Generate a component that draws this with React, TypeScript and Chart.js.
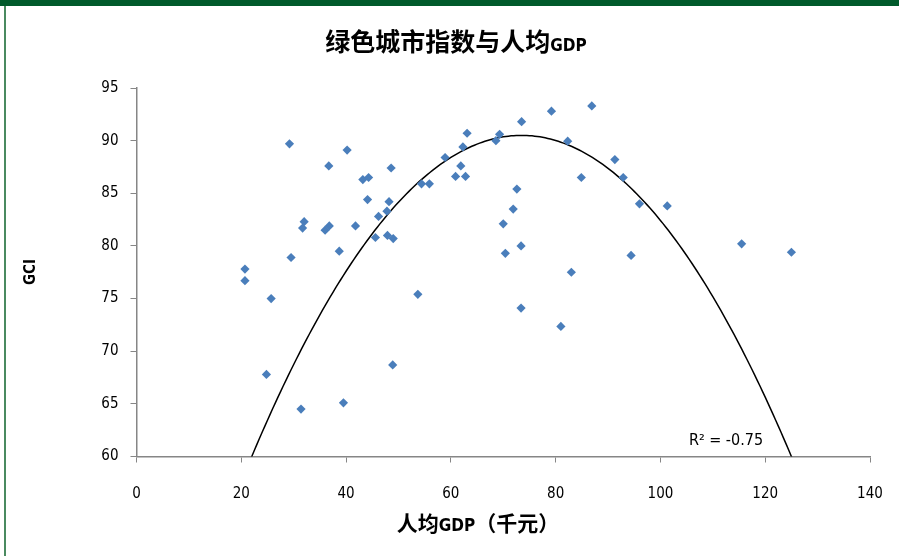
import { useEffect, useRef } from "react";
import { Chart, registerables } from "chart.js";

Chart.register(...registerables);

// ---- data ----
const gdp = [
  20.7, 20.7, 25.7, 24.8, 29.2, 29.5, 31.4, 32.0, 31.7, 36.0,
  36.8, 36.7, 39.5, 38.7, 40.2, 41.8, 43.2, 44.3, 44.1, 45.6,
  46.2, 47.8, 48.2, 48.6, 47.9, 49.0, 48.9, 53.7, 54.4, 55.9,
  58.9, 60.9, 61.9, 62.3, 62.8, 63.1, 68.6, 69.3, 70.0, 70.4,
  71.9, 72.6, 73.4, 73.4, 73.5, 79.2, 81.0, 82.3, 83.0, 84.9,
  86.9, 91.3, 92.9, 94.4, 96.0, 101.3, 115.5, 125.0,
];
const gci = [
  77.8, 76.7, 75.0, 67.8, 89.7, 78.9, 64.5, 82.3, 81.7, 81.5,
  81.9, 87.6, 65.1, 79.5, 89.1, 81.9, 86.3, 86.5, 84.4, 80.8,
  82.8, 83.3, 84.2, 87.4, 81.0, 80.7, 68.7, 75.4, 85.9, 85.9,
  88.4, 86.6, 87.6, 89.4, 86.6, 90.7, 90.0, 90.6, 82.1, 79.3,
  83.5, 85.4, 80.0, 74.1, 91.8, 92.8, 72.35, 89.95, 77.5, 86.5,
  93.3, 88.2, 86.5, 79.1, 84.0, 83.8, 80.2, 79.4,
];

const xAxisRange = [0, 140, 20];
const yAxisRange = [60, 95, 5];

// Excel polynomial (order 2) trendline: y = a x^2 + b x + c
const trendCoef = [-0.0115, 1.6905, 28.374];
const trendXRange = [21, 126];
const trendLabel = "R² = -0.75";

const titleParts = ["绿色城市指数与人均", "GDP"];
const xTitleParts = ["人均", "GDP", "（千元）"];
const yTitle = "GCI";

const CJK = "'Noto Sans CJK SC', sans-serif";
const NUM = "'DejaVu Sans Condensed', 'Liberation Sans Narrow', 'DejaVu Sans', sans-serif";

function buildTrend() {
  const pts: { x: number; y: number }[] = [];
  for (let x = trendXRange[0]; x <= trendXRange[1] + 1e-9; x += 0.5) {
    pts.push({ x, y: trendCoef[0] * x * x + trendCoef[1] * x + trendCoef[2] });
  }
  return pts;
}

function drawParts(
  ctx: CanvasRenderingContext2D,
  parts: { text: string; font: string }[],
  cx: number,
  baseline: number
) {
  let total = 0;
  const widths = parts.map((p) => {
    ctx.font = p.font;
    const w = ctx.measureText(p.text).width;
    total += w;
    return w;
  });
  let x = cx - total / 2;
  ctx.textBaseline = "alphabetic";
  ctx.textAlign = "left";
  parts.forEach((p, i) => {
    ctx.font = p.font;
    ctx.fillText(p.text, x, baseline);
    x += widths[i];
  });
}

const textPlugin = {
  id: "textPlugin",
  afterDraw(chart: any) {
    const ctx: CanvasRenderingContext2D = chart.ctx;
    const area = chart.chartArea;
    ctx.save();
    ctx.fillStyle = "#000";
    // title
    drawParts(
      ctx,
      [
        { text: titleParts[0], font: `bold 25px ${CJK}` },
        { text: titleParts[1], font: `bold 17px ${NUM}` },
      ],
      456,
      51
    );
    // x title
    drawParts(
      ctx,
      [
        { text: xTitleParts[0], font: `bold 21px ${CJK}` },
        { text: xTitleParts[1], font: `bold 17px ${NUM}` },
        { text: xTitleParts[2], font: `bold 21px ${CJK}` },
      ],
      478,
      531
    );
    // y title
    ctx.save();
    ctx.translate(31, 272);
    ctx.rotate(-Math.PI / 2);
    ctx.font = `bold 15px ${NUM}`;
    ctx.textAlign = "center";
    ctx.textBaseline = "middle";
    ctx.fillText(yTitle, 0, 0);
    ctx.restore();
    // R^2 label
    ctx.font = `16px ${NUM}`;
    ctx.textAlign = "center";
    ctx.textBaseline = "middle";
    ctx.fillText(trendLabel, area.right - 144, area.bottom - 16);
    ctx.restore();
  },
};

export default function App() {
  const ref = useRef<HTMLCanvasElement | null>(null);

  useEffect(() => {
    if (!ref.current) return;
    const chart = new Chart(ref.current, {
      type: "scatter",
      data: {
        datasets: [
          {
            label: "GCI",
            data: gdp.map((x, i) => ({ x, y: gci[i] })),
            pointStyle: "rectRot",
            pointRadius: 4.6,
            backgroundColor: "#4a7ebb",
            borderColor: "#4a7ebb",
            borderWidth: 0,
            order: 1,
          },
          {
            type: "line",
            label: "trend",
            data: buildTrend(),
            borderColor: "#000",
            borderWidth: 1.5,
            pointRadius: 0,
            fill: false,
            tension: 0,
            order: 2,
          } as any,
        ],
      },
      options: {
        animation: false,
        responsive: false,
        events: [],
        layout: { padding: { top: 88, left: 0, right: 29, bottom: 0 } },
        plugins: {
          legend: { display: false },
          title: { display: false },
          tooltip: { enabled: false },
        },
        scales: {
          x: {
            type: "linear",
            min: xAxisRange[0],
            max: xAxisRange[1],
            ticks: {
              stepSize: xAxisRange[2],
              color: "#000",
              font: { family: NUM, size: 15 },
              padding: 23,
            },
            grid: {
              drawOnChartArea: false,
              drawTicks: true,
              tickLength: 6,
              color: "#868686",
            },
            border: { color: "#868686", width: 1.5 },
            afterFit(scale: any) {
              scale.height = 99.5;
              scale.paddingLeft = 0;
              scale.paddingRight = 0;
            },
          },
          y: {
            type: "linear",
            min: yAxisRange[0],
            max: yAxisRange[1],
            ticks: {
              stepSize: yAxisRange[2],
              color: "#000",
              font: { family: NUM, size: 15 },
              padding: 12,
            },
            grid: {
              drawOnChartArea: false,
              drawTicks: true,
              tickLength: 6,
              color: "#868686",
            },
            border: { color: "#868686", width: 1.5 },
            afterFit(scale: any) {
              scale.width = 136.5;
              scale.paddingTop = 0;
              scale.paddingBottom = 0;
            },
          },
        },
      },
      plugins: [textPlugin],
    });
    return () => chart.destroy();
  }, []);

  return (
    <div
      style={{
        position: "absolute",
        left: 0,
        top: 0,
        width: 899,
        height: 556,
        background: "#fff",
        overflow: "hidden",
      }}
    >
      <canvas
        ref={ref}
        width={899}
        height={556}
        style={{ position: "absolute", left: 0, top: 0, width: 899, height: 556 }}
      />
      <div
        style={{
          position: "absolute",
          left: 0,
          top: 0,
          width: 899,
          height: 6,
          background: "#005a2b",
        }}
      />
      <div
        style={{
          position: "absolute",
          left: 4,
          top: 6,
          width: 1.5,
          height: 550,
          background: "#4a8a60",
        }}
      />
    </div>
  );
}
